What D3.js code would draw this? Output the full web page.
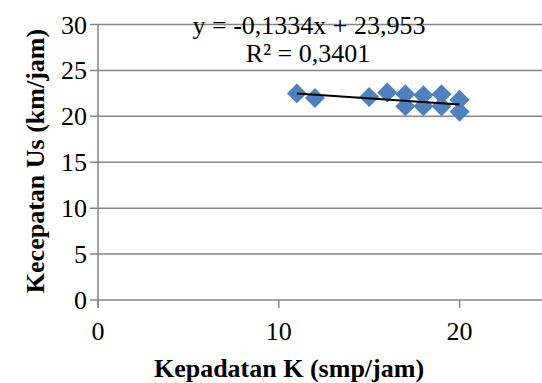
<!DOCTYPE html>
<html>
<head>
<meta charset="utf-8">
<script src="https://cdn.jsdelivr.net/npm/d3@7"></script>
<style>
  html, body { margin: 0; padding: 0; background: #fff; }
  svg { display: block; }
  text { font-family: "Liberation Serif", "DejaVu Serif", serif; fill: #000; }
</style>
</head>
<body>
<div id="chart"></div>
<script>
// Data
const kepadatan = [11, 12, 15, 16, 17, 17, 18, 18, 19, 19, 20, 20];
const kecepatan = [22.5, 22.0, 22.1, 22.6, 22.4, 21.1, 22.3, 21.1, 22.4, 21.1, 21.8, 20.5];
const xTicks = [0, 10, 20];
const yTicks = [0, 5, 10, 15, 20, 25, 30];
const trendSlope = -0.1334;
const trendIntercept = 23.953;
const eqLabel = "y = -0,1334x + 23,953";
const r2Label = "R² = 0,3401";

const width = 542, height = 383;
const fontSize = 26;
const serif = "'Liberation Serif', 'DejaVu Serif', serif";

const svg = d3.select("#chart").append("svg")
  .attr("width", width)
  .attr("height", height);

const x = d3.scaleLinear().domain([0, 25]).range([98, 550]);
const y = d3.scaleLinear().domain([0, 30]).range([300, 24.5]);

const gridColor = "#868686";

// Horizontal gridlines (with outward tick on the left)
svg.append("g")
  .selectAll("line")
  .data(yTicks)
  .join("line")
  .attr("x1", 90)
  .attr("x2", width)
  .attr("y1", d => y(d))
  .attr("y2", d => y(d))
  .attr("stroke", gridColor)
  .attr("stroke-width", 1.5);

// Y axis line
svg.append("line")
  .attr("x1", x(0)).attr("x2", x(0))
  .attr("y1", y(30)).attr("y2", y(0) + 8)
  .attr("stroke", gridColor)
  .attr("stroke-width", 1.5);

// X axis ticks
svg.append("g")
  .selectAll("line")
  .data(xTicks)
  .join("line")
  .attr("x1", d => x(d)).attr("x2", d => x(d))
  .attr("y1", y(0)).attr("y2", y(0) + 8)
  .attr("stroke", gridColor)
  .attr("stroke-width", 1.5);

// Tick labels
svg.append("g")
  .selectAll("text")
  .data(yTicks)
  .join("text")
  .attr("x", 87)
  .attr("y", d => y(d) + 9)
  .attr("text-anchor", "end")
  .attr("font-family", serif)
  .attr("font-size", fontSize)
  .text(d => d);

svg.append("g")
  .selectAll("text")
  .data(xTicks)
  .join("text")
  .attr("x", d => x(d))
  .attr("y", 340)
  .attr("text-anchor", "middle")
  .attr("font-family", serif)
  .attr("font-size", fontSize)
  .text(d => d);

// Axis titles
svg.append("text")
  .attr("x", 289)
  .attr("y", 377)
  .attr("text-anchor", "middle")
  .attr("font-family", serif)
  .attr("font-size", fontSize)
  .attr("font-weight", "bold")
  .text("Kepadatan K (smp/jam)");

svg.append("text")
  .attr("transform", "translate(44,161) rotate(-90)")
  .attr("text-anchor", "middle")
  .attr("font-family", serif)
  .attr("font-size", fontSize)
  .attr("font-weight", "bold")
  .text("Kecepatan Us (km/jam)");

// Markers (square rotated 45°)
const pts = kepadatan.map((k, i) => ({ k, v: kecepatan[i] }));
const diamond = d3.symbol().type(d3.symbolSquare).size(200);
svg.append("g")
  .selectAll("path")
  .data(pts)
  .join("path")
  .attr("d", diamond)
  .attr("transform", d => `translate(${x(d.k)},${y(d.v)}) rotate(45)`)
  .attr("fill", "#4F81BD");

// Linear trendline
const xMin = d3.min(kepadatan), xMax = d3.max(kepadatan);
svg.append("line")
  .attr("x1", x(xMin))
  .attr("y1", y(trendSlope * xMin + trendIntercept))
  .attr("x2", x(xMax))
  .attr("y2", y(trendSlope * xMax + trendIntercept))
  .attr("stroke", "#000")
  .attr("stroke-width", 2);

// Trendline equation
svg.append("text")
  .attr("x", 309)
  .attr("y", 34)
  .attr("text-anchor", "middle")
  .attr("font-family", serif)
  .attr("font-size", fontSize)
  .text(eqLabel);

svg.append("text")
  .attr("x", 308)
  .attr("y", 62)
  .attr("text-anchor", "middle")
  .attr("font-family", serif)
  .attr("font-size", fontSize)
  .text(r2Label);
</script>
</body>
</html>
